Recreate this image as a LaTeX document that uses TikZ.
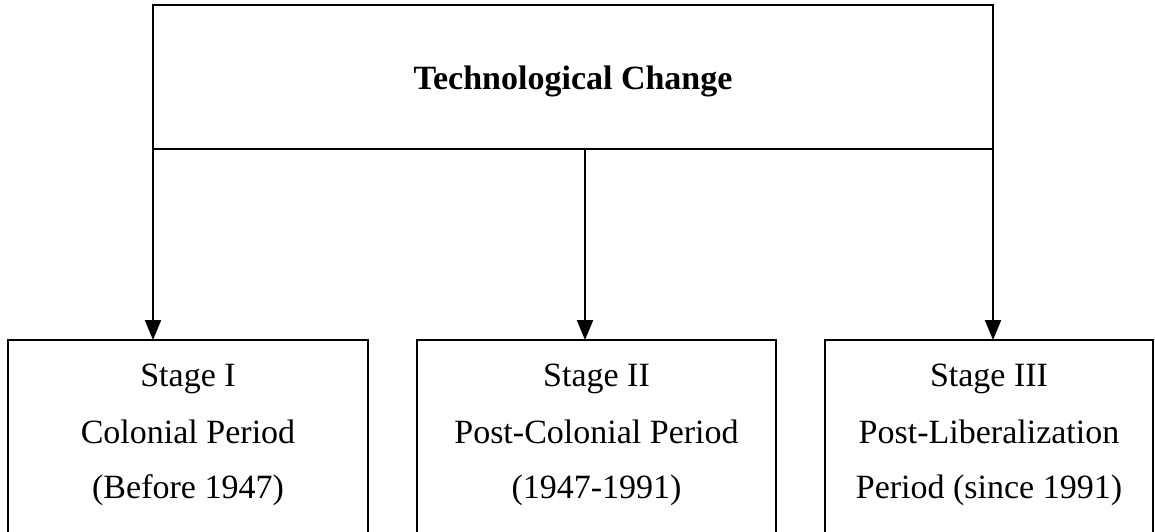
\documentclass[tikz,border=0pt]{standalone}
\usepackage{fontspec}
\setmainfont{Liberation Serif}
\usetikzlibrary{arrows.meta}
\begin{document}
\begin{tikzpicture}[x=1pt,y=-1pt,
  frame/.style={draw, line width=2.2pt, outer sep=0pt, inner sep=0pt},
  line/.style={anchor=base, inner sep=0pt, font=\fontsize{34}{40}\selectfont},
  arr/.style={line width=2.2pt, -{Triangle[length=20pt,width=16pt]}}]
\useasboundingbox (0,0) rectangle (1155,531);
\clip (0,0) rectangle (1155,531);

% header box
\node[frame, minimum width=840pt, minimum height=144pt] (top) at (573,77) {};
\node[anchor=base, inner sep=0pt, font=\fontsize{34}{40}\selectfont\bfseries] (title) at (573,89) {Technological Change};

% stage boxes (open at the bottom edge of the page)
\node[frame, anchor=north, minimum width=360pt, minimum height=230pt] (s1) at (188,340) {};
\node[frame, anchor=north, minimum width=359pt, minimum height=230pt] (s2) at (596.5,340) {};
\node[frame, anchor=north, minimum width=328pt, minimum height=230pt] (s3) at (989,340) {};

% stage texts
\node[line] (s1a) at (188,386) {Stage I};
\node[line] (s1b) at (188,443) {Colonial Period};
\node[line] (s1c) at (188,498) {(Before 1947)};
\node[line] (s2a) at (596.5,386) {Stage II};
\node[line] (s2b) at (596.5,443) {Post-Colonial Period};
\node[line] (s2c) at (596.5,498) {(1947-1991)};
\node[line] (s3a) at (989,386) {Stage III};
\node[line] (s3b) at (989,443) {Post-Liberalization};
\node[line] (s3c) at (989,498) {Period (since 1991)};

% connectors
\draw[arr] (top.south west) -- (top.south west |- s1.north);
\draw[arr] ([xshift=12pt]top.south) -- ([xshift=12pt]top.south |- s2.north);
\draw[arr] (top.south east) -- (top.south east |- s3.north);
\end{tikzpicture}
\end{document}
